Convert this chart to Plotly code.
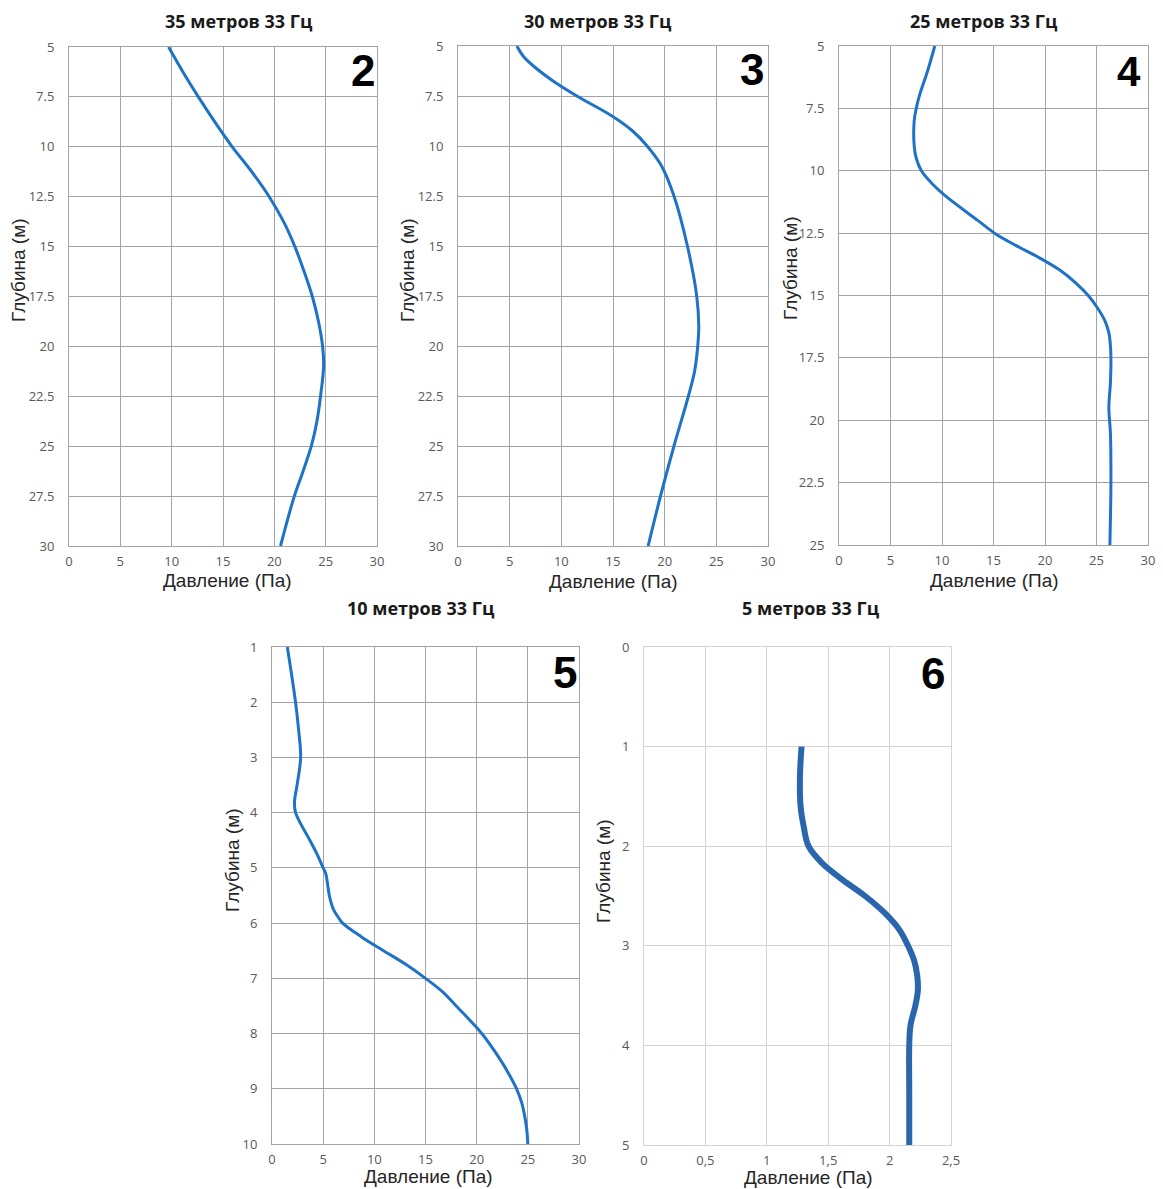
import plotly.graph_objects as go

# ---- pressure profiles at 33 Hz, depth (m) vs pressure (Pa) ----
titles = ["35 метров 33 Гц", "30 метров 33 Гц", "25 метров 33 Гц",
          "10 метров 33 Гц", "5 метров 33 Гц"]
panel_ids = ["2", "3", "4", "5", "6"]

depth_35 = [5, 6.25, 7.5, 8.75, 10, 11.25, 12.5, 13.75, 15, 16.25, 17.5, 18.75, 20, 21,
            22.5, 23.75, 25, 26.25, 27.5, 28.75, 30]
press_35 = [9.7, 11.1, 12.6, 14.2, 15.9, 17.8, 19.5, 20.9, 22.0, 22.9, 23.7, 24.3, 24.7, 24.8,
            24.5, 24.15, 23.6, 22.8, 21.95, 21.25, 20.6]

depth_30 = [5, 5.5, 6, 6.75, 7.5, 8.5, 9.25, 10, 11, 12.5, 15, 17.5, 19, 20, 21.25, 22.5,
            25, 27.5, 30]
press_30 = [5.7, 6.3, 7.3, 9.2, 11.5, 14.9, 16.9, 18.3, 19.7, 20.9, 22.2, 23.1, 23.3, 23.2,
            22.9, 22.3, 20.9, 19.6, 18.4]

depth_25 = [5, 6, 7, 7.5, 8, 9, 9.5, 10, 10.5, 11, 12, 12.5, 13, 13.5, 14, 14.5, 15,
            15.5, 16, 16.5, 17, 17.5, 18.5, 19.5, 20.5, 22.5, 24, 25]
press_25 = [9.3, 8.6, 7.8, 7.5, 7.3, 7.3, 7.5, 8.0, 9.0, 10.3, 13.5, 15.1, 17.2, 19.5, 21.5,
            23.0, 24.2, 25.1, 25.8, 26.2, 26.35, 26.4, 26.35, 26.2, 26.35, 26.4, 26.35, 26.3]

depth_10 = [1, 2, 2.5, 3, 3.5, 3.8, 4, 4.5, 4.75, 5, 5.1, 5.25, 5.5, 5.75, 5.9, 6, 6.25,
            6.5, 6.75, 7, 7.25, 7.5, 8, 8.5, 8.75, 9, 9.25, 9.5, 9.75, 10]
press_10 = [1.5, 2.3, 2.6, 2.8, 2.45, 2.2, 2.3, 3.7, 4.4, 5.0, 5.25, 5.4, 5.6, 6.0, 6.5, 6.9,
            8.75, 10.9, 13.1, 15.0, 16.7, 18.0, 20.5, 22.4, 23.2, 23.9, 24.4, 24.7, 24.9, 25.0]

depth_5 = [1.0, 1.3, 1.6, 1.8, 2.0, 2.17, 2.34, 2.5, 2.67, 2.84, 3.0, 3.15, 3.3, 3.45,
           3.6, 3.8, 4.0, 4.5, 5.0]
press_5 = [1.283, 1.27, 1.275, 1.30, 1.34, 1.45, 1.62, 1.80, 1.96, 2.08, 2.15, 2.20,
           2.225, 2.23, 2.21, 2.17, 2.16, 2.16, 2.16]

depths = [depth_35, depth_30, depth_25, depth_10, depth_5]
pressures = [press_35, press_30, press_25, press_10, press_5]

# axis ranges / ticks per panel
y_ranges = [[30, 5], [30, 5], [25, 5], [10, 1], [5, 0]]
y_dticks = [2.5, 2.5, 2.5, 1, 1]
x_ranges = [[0, 30], [0, 30], [0, 30], [0, 30], [0, 2.5]]
x_tickvals_small = [0, 0.5, 1, 1.5, 2, 2.5]
x_ticktext_small = ["0", "0,5", "1", "1,5", "2", "2,5"]

x_title = "Давление (Па)"
y_title = "Глубина (м)"

# ---- page geometry (pixels) ----
W, H = 1163, 1189
boxes = [  # left, top, right, bottom of each plotting area
    (69, 47, 377, 546),
    (458, 46, 768, 546),
    (839, 46, 1148, 545),
    (272, 647, 579, 1144),
    (644, 647, 951, 1145),
]
title_pos = [(239, 21), (598, 21), (984, 21), (421, 608), (811, 608)]
xlab_pos = [(227, 580), (613, 581), (994, 580), (428, 1176), (808, 1177)]
ylab_pos = [(18, 270), (407, 270), (790, 268), (232, 860), (603, 871)]
num_pos = [(376, 71, 44), (765, 70, 44), (1142, 72, 42), (578, 672, 44), (946, 673, 44)]


def px(x):
    return x / W


def py(y):
    return 1 - y / H


fig = go.Figure()
annotations = []
layout_axes = {}

for i in range(5):
    n = i + 1
    xa = "x" if n == 1 else f"x{n}"
    ya = "y" if n == 1 else f"y{n}"
    small = (i == 4)
    line_color = "#2a66ad" if small else "#1f73c6"
    line_w = 6 if small else 3
    grid_c = "#d4d4d4" if small else "#a3a3a3"

    fig.add_trace(go.Scatter(
        x=pressures[i], y=depths[i], mode="lines",
        line=dict(color=line_color, width=line_w, shape="spline", smoothing=1.0),
        xaxis=xa, yaxis=ya, showlegend=False, hoverinfo="x+y",
    ))

    l, t, r, b = boxes[i]
    xkey = "xaxis" if n == 1 else f"xaxis{n}"
    ykey = "yaxis" if n == 1 else f"yaxis{n}"
    tickfont = dict(family="Open Sans", size=13, color="#595959")
    xaxis = dict(
        domain=[px(l), px(r)], anchor=ya, range=x_ranges[i],
        showgrid=True, gridcolor=grid_c, gridwidth=1,
        showline=True, linecolor=grid_c, linewidth=1, mirror=True,
        zeroline=False, ticks="", tickfont=tickfont, ticklabelstandoff=3,
        automargin=False, fixedrange=True,
    )
    if small:
        xaxis.update(tickmode="array", tickvals=x_tickvals_small, ticktext=x_ticktext_small)
    else:
        xaxis.update(tick0=0, dtick=5)
    yaxis = dict(
        domain=[py(b), py(t)], anchor=xa, range=y_ranges[i],
        tick0=0, dtick=y_dticks[i],
        showgrid=True, gridcolor=grid_c, gridwidth=1,
        showline=True, linecolor=grid_c, linewidth=1, mirror=True,
        zeroline=False, ticks="", tickfont=tickfont, ticklabelstandoff=11,
        automargin=False, fixedrange=True,
    )
    layout_axes[xkey] = xaxis
    layout_axes[ykey] = yaxis

    # panel heading
    tx, ty = title_pos[i]
    annotations.append(dict(
        x=px(tx), y=py(ty), xref="paper", yref="paper", text=titles[i],
        showarrow=False, xanchor="center", yanchor="middle",
        font=dict(family="Open Sans", size=18, color="#1a1a1a", weight="bold"),
    ))
    # axis titles
    ax_x, ax_y = xlab_pos[i]
    annotations.append(dict(
        x=px(ax_x), y=py(ax_y), xref="paper", yref="paper", text=x_title,
        showarrow=False, xanchor="center", yanchor="middle",
        font=dict(family="Liberation Sans", size=19, color="#262626"),
    ))
    ay_x, ay_y = ylab_pos[i]
    annotations.append(dict(
        x=px(ay_x), y=py(ay_y), xref="paper", yref="paper", text=y_title,
        showarrow=False, xanchor="center", yanchor="middle", textangle=-90,
        font=dict(family="Liberation Sans", size=19, color="#262626"),
    ))
    # panel number
    nx, ny, ns = num_pos[i]
    annotations.append(dict(
        x=px(nx), y=py(ny), xref="paper", yref="paper", text=panel_ids[i],
        showarrow=False, xanchor="right", yanchor="middle", borderpad=0,
        font=dict(family="Liberation Sans", size=ns, color="#000000", weight="bold"),
    ))

fig.update_layout(
    width=W, height=H,
    margin=dict(l=0, r=0, t=0, b=0, autoexpand=False),
    paper_bgcolor="white", plot_bgcolor="white",
    annotations=annotations,
    **layout_axes,
)

fig.write_html("out.html", config={"displayModeBar": False})
